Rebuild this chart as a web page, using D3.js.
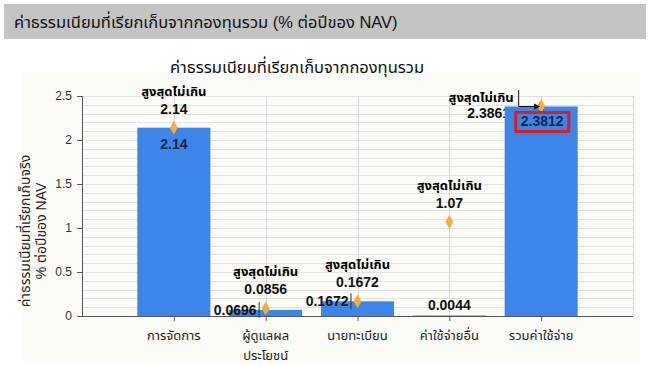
<!DOCTYPE html>
<html>
<head>
<meta charset="utf-8">
<script src="https://cdn.jsdelivr.net/npm/d3@7"></script>
<style>
  body { margin: 0; background: #fff; }
  svg { font-family: "Liberation Sans", Arial, "Noto Sans Thai", "DejaVu Sans", sans-serif; }
</style>
</head>
<body>
<div id="chart"></div>
<script>
// data
var categories = ["การจัดการ", "ผู้ดูแลผลประโยชน์", "นายทะเบียน", "ค่าใช้จ่ายอื่น", "รวมค่าใช้จ่าย"];
var categoryLines = [["การจัดการ"], ["ผู้ดูแลผล", "ประโยชน์"], ["นายทะเบียน"], ["ค่าใช้จ่ายอื่น"], ["รวมค่าใช้จ่าย"]];
var actualValues = [2.14, 0.0696, 0.1672, 0.0044, 2.3812];
var maxValues = [2.14, 0.0856, 0.1672, 1.07, 2.3861];
var yTicks = [0, 0.5, 1, 1.5, 2, 2.5];
var maxLabel = "สูงสุดไม่เกิน";

// how each value label sits (style only)
var actualPlacement = ["inside", "left", "left", "above", "boxed"];
var maxPlacement = ["above", "above", "above", "above", "leader"];

var W = 650, H = 365;
var margin = {top: 96, right: 17, bottom: 49, left: 82};

var svg = d3.select("#chart").append("svg")
  .attr("width", W)
  .attr("height", H);

// header bar
svg.append("rect")
  .attr("x", 4).attr("y", 4)
  .attr("width", 642).attr("height", 35)
  .attr("fill", "#c4c4c4");
svg.append("text")
  .attr("x", 14).attr("y", 28)
  .attr("font-size", "16.5px")
  .attr("fill", "#111")
  .text("ค่าธรรมเนียมที่เรียกเก็บจากกองทุนรวม (% ต่อปีของ NAV)");

// chart panel
svg.append("rect")
  .attr("x", 22).attr("y", 72)
  .attr("width", 618).attr("height", 290)
  .attr("fill", "#fbfbf7");

svg.append("text")
  .attr("x", 297).attr("y", 73)
  .attr("text-anchor", "middle")
  .attr("font-size", "16.5px")
  .attr("fill", "#111")
  .text("ค่าธรรมเนียมที่เรียกเก็บจากกองทุนรวม");

// scales
var x = d3.scalePoint()
  .domain(categories)
  .range([margin.left, W - margin.right])
  .padding(1);

var y = d3.scaleLinear()
  .domain([0, 2.5])
  .range([H - margin.bottom, margin.top]);

var barW = 73;

// grid
var g = svg.append("g");
g.selectAll(".hgrid")
  .data(d3.range(1, 26).map(function(i) { return i / 10; }))
  .enter().append("line")
    .attr("x1", margin.left).attr("x2", W - margin.right)
    .attr("y1", function(d) { return Math.round(y(d)) + 0.5; })
    .attr("y2", function(d) { return Math.round(y(d)) + 0.5; })
    .attr("stroke", "#e2e2de")
    .attr("stroke-width", 1);
g.selectAll(".vgrid")
  .data(categories)
  .enter().append("line")
    .attr("x1", function(d) { return Math.round(x(d)) + 0.5; })
    .attr("x2", function(d) { return Math.round(x(d)) + 0.5; })
    .attr("y1", y(2.5)).attr("y2", y(0))
    .attr("stroke", "#d8d8d8");
g.append("line")
  .attr("x1", W - margin.right + 0.5).attr("x2", W - margin.right + 0.5)
  .attr("y1", y(2.5)).attr("y2", y(0))
  .attr("stroke", "#d8d8d8");

var bold = function(sel) {
  return sel.attr("font-size", "14px").attr("font-weight", "bold").attr("fill", "#111");
};

// leader-style max label sits behind the bar, like the original
maxValues.forEach(function(v, i) {
  if (maxPlacement[i] !== "leader") return;
  var cx = x(categories[i]), cy = y(v);
  svg.append("text").attr("x", cx - 60).attr("y", cy - 4)
    .attr("text-anchor", "middle").attr("font-size", "13px").attr("font-weight", "bold")
    .text(maxLabel);
  bold(svg.append("text")).attr("x", cx - 31).attr("y", cy + 12)
    .attr("text-anchor", "end")
    .text(v);
});

// bars
svg.selectAll(".bar")
  .data(actualValues)
  .enter().append("rect")
    .attr("class", "bar")
    .attr("x", function(d, i) { return x(categories[i]) - barW / 2; })
    .attr("width", barW)
    .attr("y", function(d) { return y(d); })
    .attr("height", function(d) { return Math.max(y(0) - y(d), 1); })
    .attr("fill", function(d) { return d < 0.01 ? "#3a4f7a" : "#3d85e8"; });

// y axis
var yAxis = svg.append("g")
  .attr("transform", "translate(" + margin.left + ",0)")
  .call(d3.axisLeft(y).tickValues(yTicks).tickSize(5).tickPadding(5).tickFormat(d3.format("")));
yAxis.select(".domain").attr("stroke", "#555");
yAxis.selectAll(".tick line").attr("stroke", "#555");
yAxis.selectAll("text").attr("font-size", "12px").attr("fill", "#333").attr("font-family", "inherit");

// x axis
var xAxis = svg.append("g")
  .attr("transform", "translate(0," + y(0) + ")")
  .call(d3.axisBottom(x).tickSize(5).tickFormat(""));
xAxis.select(".domain").attr("stroke", "#555").attr("d", "M" + margin.left + ",0.5H" + (W - margin.right));
xAxis.selectAll(".tick line").attr("stroke", "#555");

categoryLines.forEach(function(lines, i) {
  var t = svg.append("text")
    .attr("x", x(categories[i]))
    .attr("y", y(0) + 24)
    .attr("text-anchor", "middle")
    .attr("font-size", "13px")
    .attr("fill", "#222");
  lines.forEach(function(l, j) {
    t.append("tspan").attr("x", x(categories[i])).attr("dy", j ? 20 : 0).text(l);
  });
});

// y title
var yt = svg.append("text")
  .attr("transform", "translate(30," + ((y(0) + y(2.5)) / 2 + 25) + ") rotate(-90)")
  .attr("text-anchor", "middle")
  .attr("font-size", "14px")
  .attr("fill", "#222");
yt.append("tspan").attr("x", 0).attr("dy", 0).text("ค่าธรรมเนียมที่เรียกเก็บจริง");
yt.append("tspan").attr("x", 0).attr("dy", 16).text("% ต่อปีของ NAV");

// max value diamonds
svg.selectAll(".maxpt")
  .data(maxValues)
  .enter().append("path")
    .attr("d", d3.symbol().type(d3.symbolDiamond).size(55))
    .attr("transform", function(d, i) { return "translate(" + x(categories[i]) + "," + y(d) + ")"; })
    .attr("fill", "#f5ad3c");

// max labels
maxValues.forEach(function(v, i) {
  var cx = x(categories[i]), cy = y(v);
  if (maxPlacement[i] === "above") {
    svg.append("text").attr("x", cx).attr("y", cy - 32)
      .attr("text-anchor", "middle").attr("font-size", "13px").attr("font-weight", "bold")
      .text(maxLabel);
    bold(svg.append("text")).attr("x", cx).attr("y", cy - 14)
      .attr("text-anchor", "middle")
      .text(v);
  } else {
    svg.append("path")
      .attr("d", "M" + (cx - 22.5) + "," + (cy - 16) + "V" + (cy + 0.5) + "H" + (cx - 6))
      .attr("fill", "none").attr("stroke", "#111");
    svg.append("path")
      .attr("d", "M" + (cx - 7) + "," + (cy - 2.5) + "L" + (cx - 1) + "," + (cy + 0.5) + "L" + (cx - 7) + "," + (cy + 3.5) + "Z")
      .attr("fill", "#111");
  }
});

// actual labels
actualValues.forEach(function(v, i) {
  var cx = x(categories[i]), cy = y(v);
  var t = bold(svg.append("text"));
  if (actualPlacement[i] === "inside") {
    t.attr("x", cx).attr("y", cy + 21).attr("text-anchor", "middle").attr("fill", "#14264a").text(v);
  } else if (actualPlacement[i] === "left") {
    t.attr("x", cx - 9).attr("y", cy + 5).attr("text-anchor", "end").text(v);
    svg.append("line")
      .attr("x1", cx - 6.5).attr("x2", cx - 6.5)
      .attr("y1", cy - 8).attr("y2", cy + 8)
      .attr("stroke", "#333");
  } else if (actualPlacement[i] === "above") {
    t.attr("x", cx).attr("y", cy - 6).attr("text-anchor", "middle").text(v);
  } else {
    t.attr("x", cx + 1).attr("y", cy + 20).attr("text-anchor", "middle").attr("fill", "#14264a").text(v);
    var bb = t.node().getBBox();
    svg.append("rect")
      .attr("x", bb.x - 5).attr("y", bb.y - 1)
      .attr("width", bb.width + 10).attr("height", bb.height + 3)
      .attr("fill", "none").attr("stroke", "#e01b24").attr("stroke-width", 3);
  }
});
</script>
</body>
</html>
